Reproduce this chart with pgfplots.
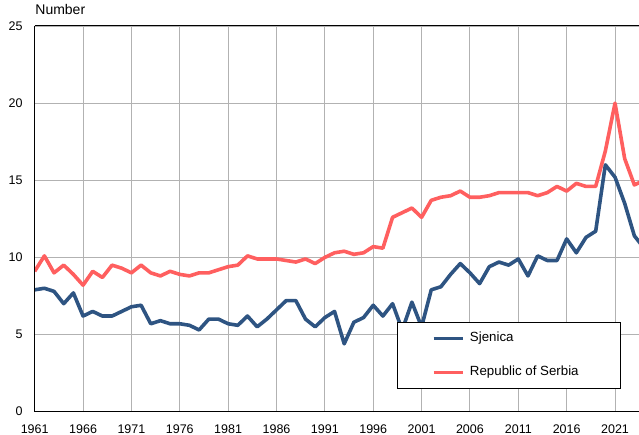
\documentclass[border=0pt]{standalone}
\usepackage{pgfplots}
\pgfplotsset{compat=1.18}
\usepackage{pgfplotstable}
\usepackage{fontspec}
\setmainfont{Liberation Sans}
\definecolor{sjen}{RGB}{46,84,130}
\definecolor{serb}{RGB}{255,95,95}
\definecolor{gridc}{RGB}{178,178,178}
\pgfplotstableread{
year sjenica serbia
1961 7.9 9.1
1962 8.0 10.1
1963 7.8 9.0
1964 7.0 9.5
1965 7.7 8.9
1966 6.2 8.2
1967 6.5 9.1
1968 6.2 8.7
1969 6.2 9.5
1970 6.5 9.3
1971 6.8 9.0
1972 6.9 9.5
1973 5.7 9.0
1974 5.9 8.8
1975 5.7 9.1
1976 5.7 8.9
1977 5.6 8.8
1978 5.3 9.0
1979 6.0 9.0
1980 6.0 9.2
1981 5.7 9.4
1982 5.6 9.5
1983 6.2 10.1
1984 5.5 9.9
1985 6.0 9.9
1986 6.6 9.9
1987 7.2 9.8
1988 7.2 9.7
1989 6.0 9.9
1990 5.5 9.6
1991 6.1 10.0
1992 6.5 10.3
1993 4.4 10.4
1994 5.8 10.2
1995 6.1 10.3
1996 6.9 10.7
1997 6.2 10.6
1998 7.0 12.6
1999 5.3 12.9
2000 7.1 13.2
2001 5.5 12.6
2002 7.9 13.7
2003 8.1 13.9
2004 8.9 14.0
2005 9.6 14.3
2006 9.0 13.9
2007 8.3 13.9
2008 9.4 14.0
2009 9.7 14.2
2010 9.5 14.2
2011 9.9 14.2
2012 8.8 14.2
2013 10.1 14.0
2014 9.8 14.2
2015 9.8 14.6
2016 11.2 14.3
2017 10.3 14.8
2018 11.3 14.6
2019 11.7 14.6
2020 16.0 16.9
2021 15.2 20.0
2022 13.5 16.4
2023 11.4 14.7
2024 10.6 15.0
}\datatable
\begin{document}
\begin{tikzpicture}[x=1pt,y=1pt]
\begin{axis}[
  at={(34.7pt,23.3pt)}, anchor=south west,
  scale only axis, width=604.3pt, height=385.7pt,
  xmin=1961, xmax=2023.48, ymin=0, ymax=25,
  xtick={1961,1966,1971,1976,1981,1986,1991,1996,2001,2006,2011,2016,2021},
  xticklabels={1961,1966,1971,1976,1981,1986,1991,1996,2001,2006,2011,2016,2021},
  ytick={0,5,10,15,20,25},
  yticklabels={0,5,10,15,20,25},
  /pgf/number format/assume math mode=true,
  major tick length=0pt,
  xticklabel style={anchor=north, inner sep=0pt, yshift=-12.6pt, font=\fontsize{12.5}{15}\selectfont},
  yticklabel style={anchor=east, inner sep=0pt, xshift=-12pt, font=\fontsize{12.5}{15}\selectfont},
  grid=major,
  major grid style={gridc, line width=0.9pt},
  axis line style={draw=none},
  clip mode=individual,
  legend style={at={(rel axis cs:0.599,0.233)}, anchor=north west, draw=black, line width=0.8pt, fill=white,
    inner xsep=34.8pt, inner ysep=10pt, row sep=21.5pt, column sep=5.5pt,
    font=\fontsize{13.3}{16}\selectfont,
    nodes={inner sep=0pt, text height=9.5pt, text depth=3pt},
    cells={anchor=west}},
  legend image code/.code={\draw[#1] (0pt,0pt) -- (29pt,0pt);},
]
\addplot[sjen, line width=3.6pt, line join=round] table[x=year, y=sjenica] {\datatable};
\addlegendentry{\makebox[116pt][l]{Sjenica}}
\addplot[serb, line width=3.6pt, line join=round] table[x=year, y=serbia] {\datatable};
\addlegendentry{\makebox[116pt][l]{Republic of Serbia}}
\draw[black, line width=1.3pt] (rel axis cs:0,1) -- (rel axis cs:0,0) -- (rel axis cs:1,0);
\draw[black, line width=1pt] (rel axis cs:0,1) -- (rel axis cs:1,1);
\node[anchor=base west, inner sep=0pt, font=\fontsize{14}{16}\selectfont] at (rel axis cs:0,1) [yshift=11pt, xshift=0.5pt] {Number};
\end{axis}
\pgfresetboundingbox
\useasboundingbox (0,0) rectangle (639pt,435pt);
\end{tikzpicture}
\end{document}
